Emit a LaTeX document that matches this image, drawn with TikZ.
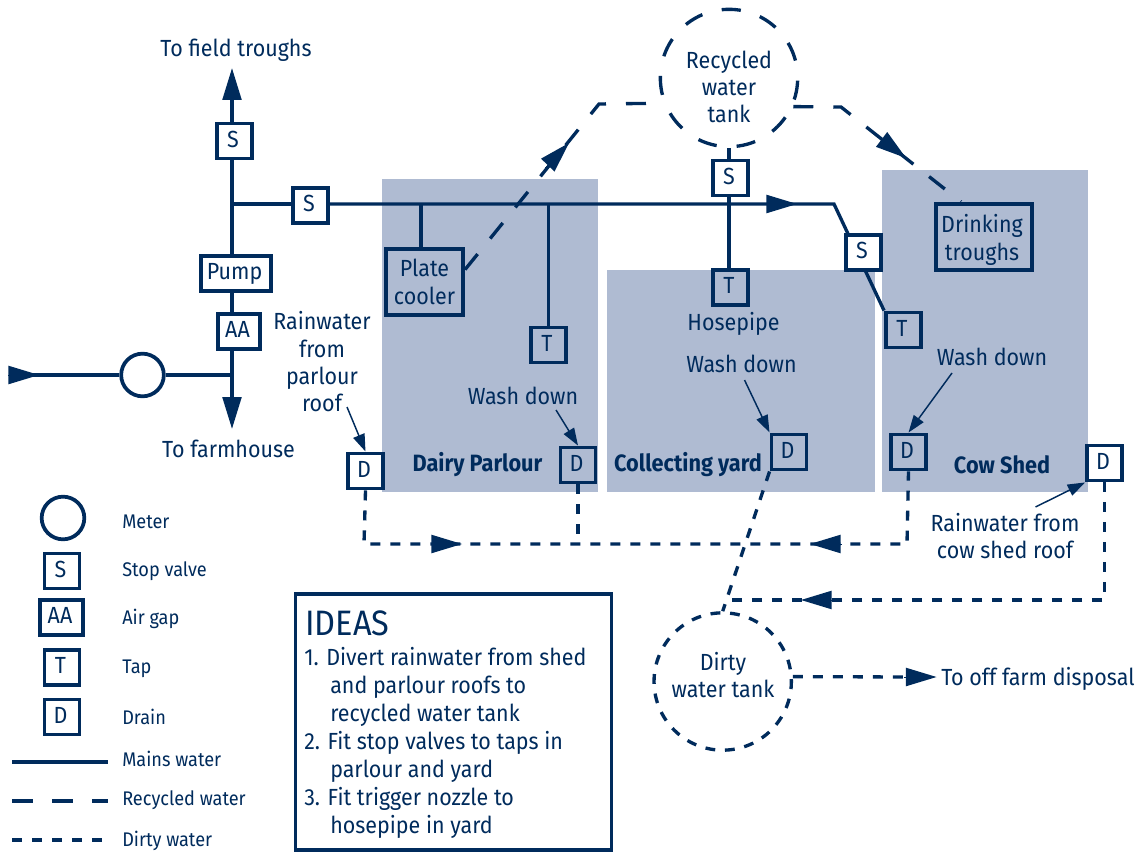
\documentclass[tikz,border=0pt]{standalone}
\usepackage{fontspec}
\setmainfont[FakeStretch=0.92]{Fira Sans}
\usetikzlibrary{arrows.meta,backgrounds,calc}
\definecolor{navy}{HTML}{002B5C}
\definecolor{shade}{HTML}{AFBBD2}
\tikzset{
  x=0.75pt,y=-0.75pt,
  every node/.style={text=navy,font=\fontsize{17.5}{20.5}\selectfont,inner sep=0pt,align=center},
  area/.style={fill=shade,draw=none},
  sq/.style={draw=navy,line width=2.8pt,minimum width=26.4pt,minimum height=26.4pt},
  letter/.style={text height=13pt,text depth=3.8pt,execute at end node={\kern2.2pt}},
  wsq/.style={sq,letter,fill=white},
  lsq/.style={sq,letter},
  wide/.style={minimum width=#1},
  mains/.style={draw=navy,line width=2.5pt},
  recycled/.style={draw=navy,line width=2.5pt,dash pattern=on 15pt off 15pt},
  dirty/.style={draw=navy,line width=2.5pt,dash pattern=on 7.5pt off 7.5pt},
  rcircle/.style={draw=navy,line width=2.5pt,circle,dash pattern=on 14.4pt off 15pt,dash phase=16.2pt,minimum size=103pt},
  dcircle/.style={draw=navy,line width=2.5pt,circle,dash pattern=on 7.35pt off 7.35pt,dash phase=5.5pt,minimum size=103pt},
  bighead/.style={draw=navy,line width=2.5pt,-{Triangle[length=24pt,width=14pt,fill=navy]}},
  headonly/.style={draw=navy,line width=0pt,-{Triangle[length=23pt,width=14pt,fill=navy]}},
  thin arrow/.style={draw=navy,line width=1.1pt,-{Triangle[length=13pt,width=9pt,fill=navy]}},
  legendtext/.style={anchor=west,font=\fontsize{14.8}{16}\selectfont},
  bold label/.style={font=\fontsize{17.7}{20}\selectfont\bfseries},
}
\begin{document}
\begin{tikzpicture}
\useasboundingbox (0,0) rectangle (1139,852);
\begin{scope}[on background layer]
  \fill[area] (382,179) rectangle (598,492);
  \fill[area] (607,270) rectangle (875,492);
  \fill[area] (881.5,170) rectangle (1088,492);
\end{scope}

% plant nodes
\node[wsq] (s1) at (234.5,141) {S};
\node[wsq] (s2) at (310.5,205.5) {S};
\node[wsq,wide=53pt] (pump) at (236,273.5) {Pump};
\node[wsq,wide=32pt] (aa) at (239,331.5) {AA};
\node[draw=navy,line width=2.8pt,circle,fill=white,minimum size=32pt] (meter) at (142.5,375) {};
\node[sq,wide=58pt,minimum height=50pt] (plate) at (424.5,282) {Plate\\cooler};
\node[lsq] (t1) at (548.5,345) {T};
\node[rcircle] (rtank) at (729,78) {};
\node (rtanktext) at (729,87) {Recycled\\water\\tank};
\node[wsq] (s3) at (730.5,178) {S};
\node[lsq] (t2) at (730.5,287.5) {T};
\node[wsq] (s4) at (863.5,252.5) {S};
\node[lsq] (t3) at (903.5,330) {T};
\node[sq,wide=72pt,minimum height=50pt] (trough) at (984,237) {};
\node (troughtext) at (982,240) {Drinking\\troughs};
\node[wsq] (d1) at (365.5,471) {D};
\node[lsq] (d2) at (578,465) {D};
\node[lsq] (d3) at (789,452) {D};
\node[lsq] (d4) at (908.5,452) {D};
\node[wsq] (d5) at (1104.5,463) {D};
\node[dcircle] (dtank) at (722.7,681.5) {};
\node (dtanktext) at (723,675) {Dirty\\water tank};

% labels
\node (lfield) at (236,50) {To field troughs};
\node (lfarm) at (228.5,449) {To farmhouse};
\node (lrain1) at (322,362) {Rainwater\\from\\parlour\\roof};
\node (lwash1) at (523,396) {Wash down};
\node (lhose) at (733.5,324) {Hosepipe};
\node (lwash2) at (741.5,364) {Wash down};
\node (lwash3) at (992,357) {Wash down};
\node (lrain2) at (1005,536) {Rainwater from\\cow shed roof};
\node[anchor=west] (ldisp) at (941,679) {To off farm disposal};
\node[bold label] (ldairy) at (477.5,465) {Dairy Parlour};
\node[bold label] (lyard) at (688,465) {Collecting yard};
\node[bold label] (lcow) at (1002,465) {Cow Shed};

% legend
\node[draw=navy,line width=2.8pt,circle,minimum size=32pt] (kmeter) at (63,518) {};
\node[lsq] (ks) at (62,571) {S};
\node[lsq,wide=32pt] (kaa) at (61.5,617.5) {AA};
\node[lsq] (kt) at (62,667.5) {T};
\node[lsq] (kd) at (62,717) {D};
\node[legendtext] (tmeter) at (122,522) {Meter};
\node[legendtext] (ts) at (122,571) {Stop valve};
\node[legendtext] (taa) at (122,619) {Air gap};
\node[legendtext] (tt) at (122,669) {Tap};
\node[legendtext] (td) at (122,717) {Drain};
\node[legendtext] (tmains) at (122,759) {Mains water};
\node[legendtext] (trec) at (122,800) {Recycled water};
\node[legendtext] (tdirty) at (122,841) {Dirty water};
\coordinate (ma) at (12,762);
\coordinate (mb) at (108,762);
\coordinate (rea) at (12,801);
\coordinate (reb) at (108,801);
\coordinate (da) at (12,840);
\coordinate (db) at (103,840);

% ideas box
\node[draw=navy,line width=2.8pt,minimum width=237pt,minimum height=192pt] (ideas) at (453.5,722) {};
\node[anchor=west,font=\fontsize{26.5}{30}\selectfont] (ideastitle) at (305,623) {IDEAS};
\node[anchor=north west,align=left,font=\fontsize{17.5}{21}\selectfont] (idealist) at (304,647) {1. Divert rainwater from shed\\
\hspace*{19.5pt}and parlour roofs to\\
\hspace*{19.5pt}recycled water tank\\
2. Fit stop valves to taps in\\
\hspace*{19.5pt}parlour and yard\\
3. Fit trigger nozzle to\\
\hspace*{19.5pt}hosepipe in yard};

% free ends and junctions
\coordinate (jtop) at (232,204);
\coordinate (jbot) at (232,375);
\coordinate (fieldtip) at (232,68);
\coordinate (farmtip) at (232,429);
\coordinate (inbase) at (10,375);
\coordinate (intip) at (39,375);
\coordinate (bendmain) at (834,204);
\coordinate (mainbase) at (768,204);
\coordinate (maintip) at (797,204);
\coordinate (recl) at (599,104);
\coordinate (recr) at (841,107);
\coordinate (dcorner1) at (364,544);
\coordinate (dcorner2) at (907,544);
\coordinate (dcorner3) at (1104.5,600);
\coordinate (dend) at (732,600);
\coordinate (h1b) at (545,168); \coordinate (h1t) at (569,143);
\coordinate (h2b) at (881,139); \coordinate (h2t) at (906,158);
\coordinate (h3b) at (431,544); \coordinate (h3t) at (462,544);
\coordinate (h4b) at (841,544); \coordinate (h4t) at (810,544);
\coordinate (h5b) at (829,600); \coordinate (h5t) at (801,600);
\coordinate (h6b) at (904.5,677); \coordinate (h6t) at (936.5,677);

\begin{scope}[on background layer]
  % mains
  \draw[mains] (inbase) -- (meter.west);
  \draw[mains] (meter.east) -- (jbot);
  \draw[bighead] (jbot) -- (fieldtip);
  \draw[bighead] (jbot) -- (farmtip);
  \draw[mains] (jtop) -- (s2.west |- jtop);
  \draw[mains] (s2.east |- jtop) -- (bendmain) -- (t3.north west);
  \draw[mains] (plate.north -| 421,0) -- (421,204);
  \draw[mains] (t1.north) -- (t1.north |- jtop);
  \draw[mains] (rtank.south) -- (rtank.south |- t2.north);
  \path[headonly] (mainbase) -- (maintip);
  \path[headonly] (inbase) -- (intip);
  % recycled
  \draw[recycled] (plate.17) -- (recl) -- (rtank.201);
  \draw[recycled] (rtank.-24) -- (recr) -- (trough.north west -| 961,0);
  % dirty
  \draw[dirty] (d1.south) -- (dcorner1) -- (dcorner2) -- (d4.south);
  \draw[dirty] (d2.south) -- (d2.south |- dcorner1);
  \draw[dirty] (d3.south west) -- (dtank.north);
  \draw[dirty] (d5.south) -- (dcorner3) -- (dend);
  \draw[dirty] (dtank.4) -- (h6b);
\end{scope}

% arrowheads along dashed lines
\foreach \a/\b in {h1b/h1t,h2b/h2t,h3b/h3t,h4b/h4t,h5b/h5t,h6b/h6t}
  \path[headonly] (\a) -- (\b);

% thin label arrows
\coordinate (a1s) at (347,407);
\coordinate (a2s) at (556,410);
\coordinate (a3s) at (744.5,380);
\coordinate (a4s) at (952,373);
\coordinate (a5s) at (1035.5,507);
\draw[thin arrow] (a1s) -- (d1.north);
\draw[thin arrow] (a2s) -- (d2.north);
\draw[thin arrow] (a3s) -- (d3.north west);
\draw[thin arrow] (a4s) -- (d4.north);
\draw[thin arrow] (a5s) -- (d5.south west);

% legend lines
\draw[mains] (ma) -- (mb);
\draw[recycled,dash pattern=on 15.5pt off 14.5pt] (rea) -- (reb);
\draw[dirty] (da) -- (db);
\end{tikzpicture}
\end{document}
